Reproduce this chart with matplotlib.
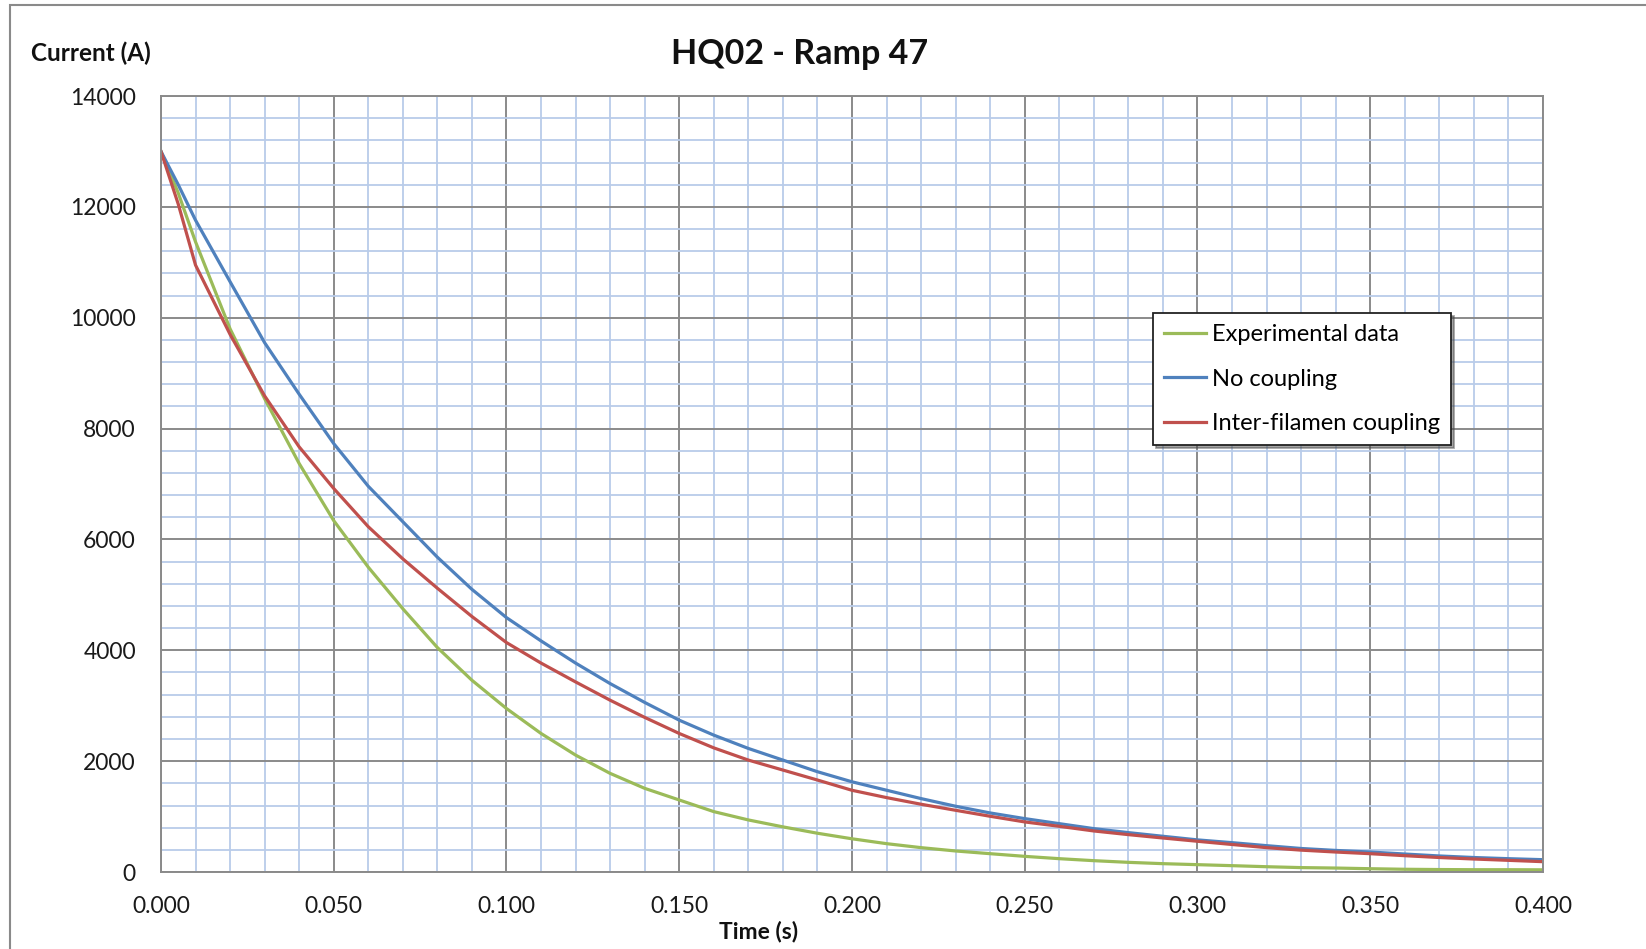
import matplotlib.pyplot as plt
from matplotlib.patches import Rectangle
from matplotlib.ticker import MultipleLocator

plt.rcParams['font.family'] = ['Lato', 'DejaVu Sans']

# time samples (s)
time = [0.000, 0.005, 0.010, 0.020, 0.030, 0.040, 0.050, 0.060, 0.070, 0.080,
        0.090, 0.100, 0.110, 0.120, 0.130, 0.140, 0.150, 0.160, 0.170, 0.180,
        0.190, 0.200, 0.210, 0.220, 0.230, 0.240, 0.250, 0.260, 0.270, 0.280,
        0.290, 0.300, 0.310, 0.320, 0.330, 0.340, 0.350, 0.360, 0.370, 0.380,
        0.390, 0.400]

# current (A)
experimental = [13000, 12250, 11370, 9800, 8540, 7370, 6340, 5500, 4750, 4050,
                3460, 2950, 2500, 2110, 1780, 1510, 1300, 1090, 940, 815,
                700, 600, 512, 440, 380, 331, 283, 241, 205, 175,
                151, 133, 115, 96, 80, 72, 60, 50, 45, 42,
                42, 40]
no_coupling = [13000, 12400, 11760, 10650, 9550, 8620, 7730, 6960, 6320, 5680,
               5100, 4590, 4170, 3770, 3400, 3060, 2740, 2470, 2230, 2020,
               1810, 1628, 1476, 1325, 1187, 1066, 964, 873, 783, 711,
               645, 580, 530, 476, 425, 390, 361, 325, 290, 262,
               241, 223]
inter_filament = [13000, 12050, 10950, 9700, 8590, 7670, 6920, 6230, 5650, 5120,
                  4610, 4140, 3770, 3430, 3100, 2790, 2500, 2240, 2020, 1840,
                  1660, 1475, 1343, 1223, 1114, 1006, 904, 825, 741, 675,
                  614, 555, 497, 440, 395, 361, 331, 295, 262, 235,
                  211, 187]

fig = plt.figure(figsize=(16.46, 9.49), dpi=100)
ax = fig.add_axes([0.0978, 0.0811, 0.8396, 0.8177])

ax.plot(time, experimental, color='#9bbb59', lw=2.3, label='Experimental data')
ax.plot(time, no_coupling, color='#4f81bd', lw=2.3, label='No coupling')
ax.plot(time, inter_filament, color='#c0504d', lw=2.3, label='Inter-filamen coupling')

ax.set_xlim(0, 0.4)
ax.set_ylim(0, 14000)
ax.xaxis.set_major_locator(MultipleLocator(0.05))
ax.xaxis.set_minor_locator(MultipleLocator(0.01))
ax.yaxis.set_major_locator(MultipleLocator(2000))
ax.yaxis.set_minor_locator(MultipleLocator(400))
ax.set_xticklabels([f'{v:.3f}' for v in ax.get_xticks()])

ax.grid(which='minor', color='#b9cce9', lw=1.3)
ax.grid(which='major', color='#8a8a8a', lw=1.4)
ax.set_axisbelow(True)
for s in ax.spines.values():
    s.set_color('#8a8a8a')
    s.set_linewidth(1.4)

ax.tick_params(which='both', length=0, labelsize=16.5, colors='#1a1a1a')
ax.tick_params(axis='x', pad=17)
ax.tick_params(axis='y', pad=18)

fig.text(0.486, 0.943, 'HQ02 - Ramp 47', fontsize=24.5, fontweight='bold',
         ha='center', va='center', color='#111111')
fig.text(0.019, 0.944, 'Current (A)', fontsize=17.5, fontweight='bold',
         ha='left', va='center', color='#111111')
fig.text(0.461, 0.018, 'Time (s)', fontsize=16.5, fontweight='bold',
         ha='center', va='center', color='#111111')

leg = ax.legend(loc='upper left', bbox_to_anchor=(0.718, 0.72), fontsize=17,
                frameon=True, fancybox=False, shadow=True, handlelength=1.8,
                labelspacing=1.0, borderpad=0.45, handletextpad=0.25, borderaxespad=0)
leg.get_frame().set_edgecolor('#222222')
leg.get_frame().set_linewidth(1.3)

# outer chart border
fig.patches.append(Rectangle((10 / 1646, -0.5), 2, 0.5 + 1 - 5 / 949, fill=False,
                             edgecolor='#8a8a8a', lw=1.5, transform=fig.transFigure))

fig.savefig('out.png', dpi=100)
